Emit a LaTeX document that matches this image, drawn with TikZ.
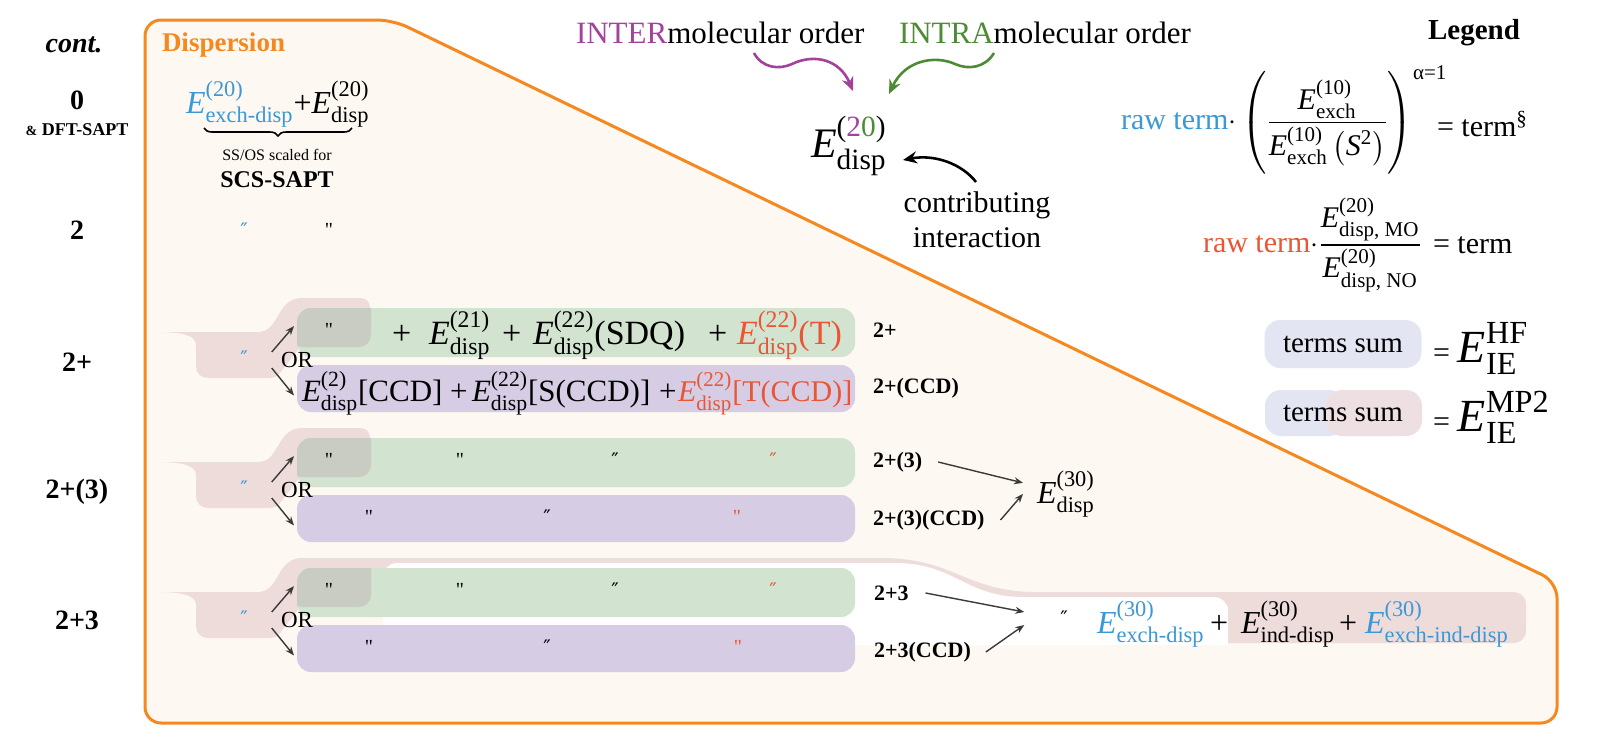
\documentclass[tikz,border=0pt]{standalone}
\usepackage{amsmath}
\usepackage{fontspec}
\setmainfont{Liberation Serif}
\newfontfamily\djv{DejaVu Serif}
\usetikzlibrary{arrows.meta,decorations.pathreplacing}
\definecolor{orng}{HTML}{F5891F}
\definecolor{cream}{HTML}{FDF8F1}
\definecolor{bluet}{HTML}{3A98D6}
\definecolor{redt}{HTML}{EA5535}
\definecolor{magt}{HTML}{A3419B}
\definecolor{grnt}{HTML}{4D8C35}
\definecolor{grnbox}{HTML}{D2E4D0}
\definecolor{purbox}{HTML}{D6CDE5}
\definecolor{pinkbox}{HTML}{EEDCDB}
\definecolor{graybox}{HTML}{C8CCC2}
\definecolor{legblue}{HTML}{E3E6F2}
\definecolor{legpink}{HTML}{EEDFE3}
\definecolor{arr}{HTML}{3A3A3A}
\newcommand\EE[2]{\ensuremath{\textit{E}^{\text{#1}}_{\text{#2}}}}
\newcommand\dq{\textquotedbl}
\newcommand\dqs{{\djv ″}}
\begin{document}
\begin{tikzpicture}[x=0.5pt,y=-0.5pt,
  every node/.style={inner sep=0pt, outer sep=0pt},
  rowlab/.style={font=\fontsize{14}{16}\selectfont\bfseries},
  sidelab/.style={font=\fontsize{11}{13}\selectfont\bfseries, anchor=west},
  frm/.style={font=\fontsize{16}{19}\selectfont, anchor=base west},
  frmp/.style={font=\fontsize{15.5}{18}\selectfont, anchor=base west},
  frmg/.style={font=\fontsize{17}{20}\selectfont, anchor=base west},
  txt/.style={font=\fontsize{15.5}{18}\selectfont},
  lgt/.style={font=\fontsize{15}{18}\selectfont},
  dit/.style={font=\fontsize{10}{12}\selectfont},
  gbox/.style={fill=grnbox, rounded corners=7pt, minimum width=279pt, minimum height=24.5pt, anchor=north west},
  pbox/.style={fill=purbox, rounded corners=7pt, minimum width=279pt, minimum height=23.5pt, anchor=north west},
  garr/.style={draw=arr, line width=0.7pt, -{Stealth[length=4.5pt,width=3.5pt]}},
  warr/.style={line width=1.3pt, -{Stealth[length=7pt,width=6pt]}},
]
\useasboundingbox (0,0) rectangle (1605,750);
\fill[white] (0,0) rectangle (1605,750);
% main orange panel
\draw[orng, line width=1.5pt, fill=cream, rounded corners=8pt] (145,20) -- (393,20) -- (1557,582) -- (1557,723) -- (145,723) -- cycle;

% pink blobs rows 2+ and 2+(3)
\foreach \g in {308,438}{
  \begin{scope}[shift={(0,\g)}]
  \fill[pinkbox] (158,24) -- (258,24) .. controls (280,24) and (276,-10) .. (302,-10) -- (360,-10) .. controls (366,-10) and (370,-6) .. (370,0) -- (370,31) .. controls (370,36) and (366,39) .. (360,39) -- (300,39) -- (280,65) .. controls (277,69) and (274,70) .. (268,70) -- (208,70) .. controls (201,70) and (196,65) .. (196,58) -- (196,37) .. controls (196,28) and (184,24) .. (158,24) -- cycle;
  \end{scope}}
% pink band row 2+3
\begin{scope}[shift={(0,568)}]
  \fill[pinkbox] (158,24) -- (258,24) .. controls (280,24) and (276,-10) .. (302,-10) -- (881,-10) .. controls (955,-10) and (965,24) .. (1037,24) -- (1512,24) .. controls (1521,24) and (1526,29) .. (1526,37) -- (1526,62) .. controls (1526,70) and (1521,75) .. (1512,75) -- (1228,75) -- (1228,39) -- (300,39) -- (280,65) .. controls (277,69) and (274,70) .. (268,70) -- (208,70) .. controls (201,70) and (196,65) .. (196,58) -- (196,37) .. controls (196,28) and (184,24) .. (158,24) -- cycle;
  \fill[white, rounded corners=7pt] (383,77) -- (383,-5) -- (881,-5) .. controls (955,-5) and (965,29) .. (1037,29) -- (1228,29) -- (1228,77);
\end{scope}

% boxes
\node[gbox] (G1) at (297,308) {};
\node[pbox] (P1) at (297,365) {};
\node[gbox] (G2) at (297,438) {};
\node[pbox] (P2) at (297,495) {};
\node[gbox] (G3) at (297,568) {};
\node[pbox] (P3) at (297,625) {};
% overlaps
\foreach \g in {308,438,568}{
  \begin{scope}
  \clip[rounded corners=7pt] (297,\g) rectangle (855,\g+49);
  \fill[graybox, rounded corners=6pt] (290,\g-12) rectangle (371,\g+39);
  \end{scope}}

% left column
\node[font=\fontsize{14}{16}\selectfont\bfseries\itshape] (cont) at (74,45) {cont.};
\node[rowlab] (r0) at (77,100) {0};
\node[font=\fontsize{9}{11}\selectfont\bfseries] (r0b) at (77,130) {{\fontsize{7}{8}\selectfont\&} DFT-SAPT};
\node[rowlab] (r2) at (77,230) {2};
\node[rowlab] (r2p) at (77,362) {2+};
\node[rowlab] (r23p) at (77,492) {2+(3)};
\node[rowlab] (r23) at (77,620) {2+3};

\node[font=\fontsize{13.5}{16}\selectfont\bfseries, text=orng, anchor=west] (disp) at (162,45) {Dispersion};

% row 0
\node[frm] (f0) at (186,113) {\textcolor{bluet}{\EE{(20)}{exch-disp}}+\EE{(20)}{disp}};
\draw[decorate, decoration={brace, mirror, amplitude=4pt}, line width=0.8pt] (204,128) -- (352,128);
\node[font=\fontsize{8}{10}\selectfont] (ss) at (277,155) {SS/OS scaled for};
\node[font=\fontsize{12}{14}\selectfont\bfseries] (scs) at (277,180) {SCS-SAPT};
% row 2
\node[dit, text=bluet] (d2a) at (244,230) {\dqs};
\node[dit] (d2b) at (329,230) {\dq};

% blob contents: blue ditto, OR, arrows
\node[dit, text=bluet] (b1) at (244,358) {\dqs};
\node[dit, text=bluet] (b2) at (244,488) {\dqs};
\node[dit, text=bluet] (b3) at (244,618) {\dqs};
\node[font=\fontsize{11.5}{13}\selectfont, anchor=west] (or1) at (281,360) {OR};
\node[font=\fontsize{11.5}{13}\selectfont, anchor=west] (or2) at (281,490) {OR};
\node[font=\fontsize{11.5}{13}\selectfont, anchor=west] (or3) at (281,620) {OR};
\foreach \b/\G/\P in {b1/G1/P1,b2/G2/P2,b3/G3/P3}{
  \draw[garr] ([xshift=12pt,yshift=3pt]\b.east) -- ([xshift=-1.5pt,yshift=3.2pt]\G.west);
  \draw[garr] ([xshift=12pt,yshift=-5pt]\b.east) -- ([xshift=-1.5pt,yshift=-3.5pt]\P.west);
}

% row 2+ green
\node[dit] (q1) at (329,330) {\dq};
\node[frmg] (pa1) at (392,344) {+};
\node[frmg] (e21) at (429,344) {\EE{(21)}{disp}};
\node[frmg] (pa2) at (502,344) {+};
\node[frmg] (e22) at (533,344) {\EE{(22)}{disp}(SDQ)};
\node[frmg] (pa3) at (708,344) {+};
\node[frmg, text=redt] (e22t) at (737,344) {\EE{(22)}{disp}(T)};
% row 2+ purple
\node[frmp] (c1) at (302,401) {\EE{(2)}{disp}[CCD]};
\node[frmp] (pb1) at (450,401) {+};
\node[frmp] (c2) at (472,401) {\EE{(22)}{disp}[S(CCD)]};
\node[frmp] (pb2) at (659,401) {+};
\node[frmp, font=\fontsize{15}{18}\selectfont, text=redt] (c3) at (678,401) {\EE{(22)}{disp}[T(CCD)]};

% row 2+(3) dittos
\node[dit] (q21) at (329,460) {\dq};
\node[dit] (q22) at (460,460) {\dq};
\node[dit] (q23) at (615,460) {\dqs};
\node[dit, text=redt] (q24) at (773,460) {\dqs};
\node[dit] (q25) at (369,517) {\dq};
\node[dit] (q26) at (547,517) {\dqs};
\node[dit, text=redt] (q27) at (737,517) {\dq};
% row 2+3 dittos
\node[dit] (q31) at (329,590) {\dq};
\node[dit] (q32) at (460,590) {\dq};
\node[dit] (q33) at (615,590) {\dqs};
\node[dit, text=redt] (q34) at (773,590) {\dqs};
\node[dit] (q35) at (369,647) {\dq};
\node[dit] (q36) at (547,647) {\dqs};
\node[dit, text=redt] (q37) at (738,647) {\dq};

% side labels
\node[sidelab] (l1a) at (873,330) {2+};
\node[sidelab] (l1b) at (873,388) {2+(CCD)};
\node[sidelab] (l2a) at (873,462) {2+(3)};
\node[sidelab] (l2b) at (873,520) {2+(3)(CCD)};
\node[sidelab] (l3a) at (874,593) {2+3};
\node[sidelab] (l3b) at (874,652) {2+3(CCD)};

\node[frm] (E30) at (1037,503) {\EE{(30)}{disp}};
\draw[garr] ([xshift=8pt]l2a.east) -- ([xshift=-7pt,yshift=5.5pt]E30.west);
\draw[garr] ([xshift=8pt]l2b.east) -- ([xshift=-7pt]E30.west);

\node[dit] (d30) at (1064,618) {\dqs};
\draw[garr] ([xshift=8.5pt]l3a.east) -- ([xshift=-18pt,yshift=3pt]d30.west);
\draw[garr] ([xshift=7.5pt]l3b.east) -- ([xshift=-18pt,yshift=-3.5pt]d30.west);
\node[frm, text=bluet] (e31) at (1097,633) {\EE{(30)}{exch-disp}};
\node[frm] (p31) at (1210,633) {+};
\node[frm] (e32) at (1241,633) {\EE{(30)}{ind-disp}};
\node[frm] (p32) at (1339,633) {+};
\node[frm, text=bluet] (e33) at (1365,633) {\EE{(30)}{exch-ind-disp}};

% top centre
\node[txt, anchor=west] (inter) at (576,33) {\textcolor{magt}{INTER}molecular order};
\node[txt, anchor=west] (intra) at (899,33) {\textcolor{grnt}{INTRA}molecular order};
\node[font=\fontsize{21}{25}\selectfont, anchor=base west] (E20) at (811,157) {\EE{(\textcolor{magt}{2}\textcolor{grnt}{0})}{disp}};
\coordinate (ms) at (754,53);
\coordinate (me) at (853,91);
\coordinate (gs) at (994,53);
\coordinate (ge) at (889,94);
\draw[warr, draw=magt] (ms) .. controls (762,68) and (779,70) .. (792,64) .. controls (815,53) and (840,60) .. (me);
\draw[warr, draw=grnt] (gs) .. controls (985,68) and (968,70) .. (955,64) .. controls (935,55) and (905,60) .. (ge);
\node[font=\fontsize{15}{17.5}\selectfont, align=center] (ci) at (977,220) {contributing\\interaction};
\coordinate (cs) at (976,182);
\coordinate (ce) at (903,160);
\draw[warr, draw=black] (cs) .. controls (962,164) and (935,154) .. (ce);

% legend
\node[font=\fontsize{14.5}{17}\selectfont\bfseries] (leg) at (1474,33) {Legend};
\node[lgt, anchor=west] (lf1) at (1121,120) {\textcolor{bluet}{raw term}$\cdot\left(\rule[-22pt]{0pt}{50pt}\dfrac{\textit{E}^{\text{(10)}}_{\text{exch}}}{\textit{E}^{\text{(10)}}_{\text{exch}}\left(\textit{S}^{\text{2}}\right)}\right)^{\text{α=1}}$};
\node[lgt, anchor=west] (lt1) at (1437,124) {= term$^{\text{§}}$};
\node[lgt, anchor=west] (lf2) at (1203,245) {\textcolor{redt}{raw term}$\cdot\dfrac{\textit{E}^{\text{(20)}}_{\text{disp, MO}}}{\textit{E}^{\text{(20)}}_{\text{disp, NO}}}$};
\node[lgt, anchor=west] (lt2) at (1433,245) {= term};

\node[fill=legblue, rounded corners=8pt, minimum width=78.5pt, minimum height=24pt] (ts1) at (1343,344) {};
\node[font=\fontsize{14.5}{17}\selectfont] (ts1t) at (1343,344) {terms sum};
\node[anchor=base west] (eh) at (1433,362) {{\fontsize{15}{18}\selectfont=\hspace{4pt}}{\fontsize{23}{27}\selectfont\EE{HF}{IE}}};
\node[fill=legblue, rounded corners=8pt, minimum width=40pt, minimum height=23pt] (tb2) at (1305,413) {};
\node[fill=legpink, rounded corners=8pt, minimum width=48pt, minimum height=23pt] (tp2) at (1374,413) {};
\node[font=\fontsize{14.5}{17}\selectfont] (ts2t) at (1343,413) {terms sum};
\node[anchor=base west] (em) at (1433,431) {{\fontsize{15}{18}\selectfont=\hspace{4pt}}{\fontsize{23}{27}\selectfont\EE{MP2}{IE}}};
\end{tikzpicture}
\end{document}
